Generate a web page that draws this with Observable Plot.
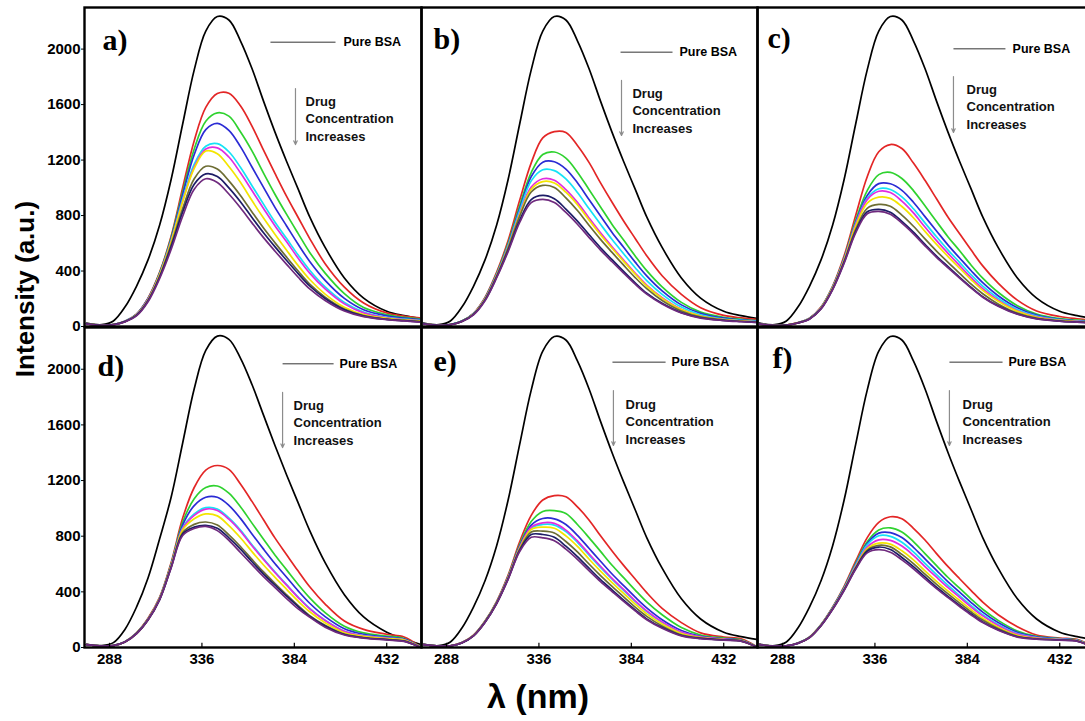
<!DOCTYPE html>
<html>
<head>
<meta charset="utf-8">
<script src="https://cdn.jsdelivr.net/npm/d3@7"></script>
<script src="https://cdn.jsdelivr.net/npm/@observablehq/plot@0.6"></script>
<style>
  html, body { margin: 0; padding: 0; background: #fff; }
  #chart { position: relative; width: 1085px; height: 721px; overflow: hidden; background: #fff;
           font-family: "Liberation Sans", Arial, sans-serif; }
  .panel { position: absolute; }
  .title { position: absolute; white-space: nowrap; line-height: 1; font-weight: bold; color: #000;
           font-family: "Liberation Sans", Arial, sans-serif; }
</style>
</head>
<body>
<div id="chart"></div>
<script>
// ---------- DATA ----------
const wavelengths = [276, 284, 290, 296, 302, 308, 314, 320, 326, 332, 338, 344, 350, 356, 362, 368, 374, 380, 386, 392, 400, 410, 420, 432, 441, 449];
const seriesNames = ["Pure BSA", "C1", "C2", "C3", "C4", "C5", "C6", "C7", "C8", "C9"];
const seriesColors = ["#000000", "#e32626", "#2fd22f", "#2b2bd4", "#16e2f6", "#e02ce0", "#f3e500", "#6d6d34", "#1d1d66", "#6f2a7e"];
const panelLabels = ["a)", "b)", "c)", "d)", "e)", "f)"];
const xTicks = [288, 336, 384, 432];
const yTicks = [0, 400, 800, 1200, 1600, 2000];
const legendText = "Pure BSA";
const arrowText = "Drug\nConcentration\nIncreases";
const xTitle = "λ (nm)";
const yTitle = "Intensity (a.u.)";

const pureBSA   = [24, 13, 40, 140, 290, 480, 730, 1060, 1460, 1850, 2130, 2235, 2210, 2060, 1860, 1625, 1400, 1190, 990, 790, 570, 350, 205, 110, 78, 58];
const pureBSA_d = [22, 14, 35, 130, 290, 500, 780, 1080, 1470, 1860, 2135, 2238, 2215, 2080, 1890, 1670, 1450, 1240, 1040, 840, 610, 380, 220, 110, 60, 25];

// order: red, green, blue, cyan, magenta, yellow, olive, navy, purple
const panelA = [
  [20, 9, 14, 38, 90, 205, 390, 650, 1000, 1340, 1580, 1680, 1682, 1592, 1445, 1271, 1102, 938, 786, 634, 453, 284, 170, 98, 75, 62],
  [20, 9, 14, 38, 88, 200, 385, 640, 970, 1280, 1480, 1540, 1517, 1404, 1266, 1106, 952, 808, 670, 534, 385, 237, 137, 86, 66, 55],
  [20, 9, 14, 38, 88, 200, 380, 630, 950, 1240, 1420, 1465, 1414, 1297, 1150, 1003, 857, 725, 593, 469, 333, 203, 121, 77, 60, 50],
  [20, 9, 14, 37, 86, 195, 375, 620, 920, 1170, 1300, 1318, 1260, 1148, 1015, 882, 752, 634, 515, 405, 285, 173, 105, 66, 53, 44],
  [20, 9, 14, 37, 85, 195, 372, 615, 905, 1150, 1280, 1288, 1222, 1108, 980, 851, 725, 611, 492, 385, 271, 163, 98, 62, 50, 43],
  [19, 9, 13, 36, 84, 192, 370, 610, 900, 1140, 1265, 1246, 1154, 1040, 908, 782, 664, 550, 439, 339, 234, 139, 86, 59, 48, 40],
  [19, 9, 13, 35, 82, 188, 360, 590, 850, 1065, 1155, 1135, 1050, 945, 826, 710, 603, 500, 400, 306, 212, 126, 78, 53, 44, 37],
  [19, 9, 13, 35, 80, 185, 355, 575, 825, 1025, 1100, 1081, 1000, 900, 786, 676, 574, 476, 381, 292, 202, 120, 75, 51, 42, 34],
  [18, 8, 12, 33, 76, 178, 345, 555, 795, 990, 1065, 1038, 955, 856, 747, 641, 543, 448, 355, 271, 188, 112, 71, 50, 40, 32]
];
const panelB = [
  [20, 9, 14, 40, 95, 210, 390, 620, 910, 1180, 1360, 1405, 1399, 1305, 1183, 1036, 896, 761, 635, 510, 366, 231, 135, 80, 62, 52],
  [20, 9, 14, 40, 93, 205, 380, 600, 870, 1110, 1240, 1258, 1214, 1113, 988, 862, 736, 623, 509, 403, 286, 174, 104, 66, 52, 43],
  [20, 9, 14, 39, 92, 203, 375, 590, 850, 1080, 1185, 1188, 1135, 1036, 915, 796, 678, 571, 464, 365, 257, 156, 95, 60, 48, 40],
  [20, 9, 14, 39, 91, 200, 372, 585, 835, 1050, 1130, 1124, 1064, 966, 850, 737, 627, 525, 424, 331, 232, 140, 85, 54, 44, 37],
  [19, 9, 13, 38, 90, 198, 368, 575, 815, 1005, 1065, 1055, 987, 895, 783, 675, 575, 479, 385, 298, 207, 124, 76, 50, 40, 34],
  [19, 9, 13, 38, 89, 196, 365, 570, 805, 990, 1045, 1035, 968, 878, 768, 662, 564, 470, 378, 292, 203, 122, 75, 49, 40, 33],
  [19, 9, 13, 37, 88, 194, 362, 565, 795, 970, 1017, 1002, 927, 836, 730, 628, 534, 442, 353, 273, 188, 112, 69, 47, 38, 32],
  [19, 9, 13, 37, 86, 190, 355, 550, 765, 915, 945, 921, 847, 760, 663, 568, 482, 397, 315, 240, 167, 100, 63, 44, 36, 30],
  [18, 8, 12, 36, 84, 186, 350, 540, 750, 893, 917, 894, 822, 737, 643, 551, 467, 385, 305, 233, 162, 97, 61, 43, 35, 29]
];
const panelC = [
  [18, 8, 10, 28, 60, 140, 290, 510, 800, 1080, 1260, 1312, 1283, 1178, 1054, 921, 788, 669, 551, 437, 313, 190, 112, 72, 56, 46],
  [18, 8, 10, 27, 58, 137, 285, 495, 765, 980, 1095, 1111, 1067, 980, 870, 757, 646, 546, 442, 349, 247, 150, 90, 57, 46, 38],
  [18, 8, 10, 27, 57, 135, 282, 490, 750, 945, 1030, 1029, 982, 896, 792, 689, 587, 494, 402, 316, 222, 135, 82, 51, 41, 35],
  [18, 8, 10, 27, 57, 134, 280, 485, 740, 925, 993, 988, 935, 849, 747, 647, 551, 462, 372, 291, 204, 123, 75, 48, 39, 33],
  [17, 8, 10, 26, 56, 133, 278, 482, 735, 915, 975, 966, 904, 819, 717, 619, 527, 439, 352, 273, 190, 114, 70, 46, 37, 31],
  [17, 8, 10, 26, 56, 132, 276, 478, 722, 890, 933, 924, 865, 784, 686, 592, 504, 420, 337, 261, 182, 109, 67, 44, 35, 30],
  [17, 8, 10, 26, 55, 130, 272, 470, 700, 852, 880, 867, 803, 723, 632, 544, 462, 383, 305, 236, 163, 97, 60, 40, 33, 28],
  [17, 8, 10, 25, 54, 128, 268, 462, 685, 827, 845, 824, 758, 680, 593, 508, 431, 355, 282, 215, 149, 90, 56, 39, 32, 27],
  [17, 7, 9, 25, 53, 126, 265, 456, 675, 813, 830, 809, 745, 668, 582, 499, 423, 349, 277, 211, 146, 88, 55, 38, 31, 26]
];
const panelD = [
  [20, 10, 13, 42, 105, 210, 360, 610, 930, 1150, 1275, 1308, 1280, 1175, 1050, 918, 786, 667, 549, 436, 312, 190, 130, 95, 75, 10],
  [20, 10, 13, 41, 103, 205, 355, 600, 900, 1070, 1150, 1161, 1109, 1012, 894, 778, 663, 558, 453, 357, 251, 153, 105, 82, 65, 8],
  [20, 10, 13, 41, 102, 204, 352, 595, 880, 1020, 1080, 1080, 1022, 928, 816, 707, 602, 505, 407, 318, 222, 135, 95, 75, 60, 7],
  [20, 10, 13, 40, 101, 202, 350, 590, 860, 960, 1005, 995, 931, 844, 739, 638, 543, 452, 363, 281, 196, 117, 85, 68, 56, 6],
  [20, 10, 13, 40, 101, 202, 349, 588, 855, 950, 995, 985, 922, 836, 731, 632, 537, 448, 359, 278, 194, 116, 84, 67, 55, 6],
  [20, 10, 13, 40, 100, 200, 347, 585, 845, 925, 960, 946, 876, 789, 689, 593, 504, 418, 333, 257, 178, 106, 80, 64, 53, 5],
  [20, 10, 13, 40, 100, 200, 345, 580, 825, 885, 902, 880, 809, 726, 633, 543, 460, 379, 301, 229, 160, 96, 72, 58, 48, 5],
  [20, 10, 13, 39, 99, 198, 343, 575, 815, 865, 878, 857, 788, 707, 616, 528, 448, 369, 293, 223, 155, 93, 70, 56, 46, 4],
  [20, 10, 13, 39, 98, 197, 342, 572, 805, 855, 870, 840, 770, 683, 596, 509, 431, 352, 278, 218, 146, 90, 68, 54, 44, 4]
];
const panelE = [
  [20, 10, 12, 35, 88, 190, 330, 520, 760, 950, 1060, 1092, 1083, 1011, 917, 803, 694, 590, 492, 394, 281, 179, 105, 75, 62, 8],
  [20, 10, 12, 35, 87, 188, 326, 512, 740, 905, 978, 984, 963, 884, 790, 691, 591, 502, 413, 328, 235, 143, 90, 68, 56, 7],
  [20, 10, 12, 35, 86, 186, 323, 506, 728, 880, 927, 925, 884, 806, 713, 620, 528, 445, 362, 285, 200, 122, 80, 62, 52, 6],
  [20, 10, 12, 34, 85, 184, 320, 501, 716, 858, 884, 880, 833, 756, 665, 576, 491, 411, 331, 259, 181, 110, 75, 59, 49, 6],
  [20, 10, 12, 34, 86, 185, 321, 503, 720, 865, 896, 892, 844, 766, 674, 584, 497, 417, 336, 263, 184, 111, 76, 60, 50, 6],
  [20, 10, 12, 34, 85, 184, 319, 499, 712, 848, 865, 857, 802, 727, 636, 549, 467, 389, 312, 242, 169, 101, 72, 57, 48, 5],
  [20, 10, 12, 34, 84, 183, 318, 496, 705, 830, 836, 823, 762, 687, 600, 517, 439, 364, 290, 224, 155, 92, 68, 55, 47, 5],
  [20, 10, 12, 33, 84, 182, 316, 493, 698, 812, 812, 792, 728, 653, 570, 488, 414, 341, 271, 206, 143, 86, 65, 54, 46, 5],
  [20, 10, 12, 33, 83, 180, 314, 490, 690, 792, 788, 768, 707, 634, 553, 474, 402, 331, 263, 200, 139, 84, 63, 53, 45, 4]
];
const panelF = [
  [20, 10, 12, 32, 75, 165, 290, 440, 620, 790, 900, 940, 926, 857, 773, 675, 581, 494, 409, 326, 235, 149, 90, 68, 58, 8],
  [20, 10, 12, 32, 74, 163, 286, 432, 605, 760, 845, 860, 830, 761, 675, 589, 503, 426, 348, 275, 195, 119, 80, 64, 54, 7],
  [20, 10, 12, 32, 74, 162, 284, 428, 598, 748, 822, 826, 790, 720, 637, 554, 472, 398, 323, 254, 179, 109, 76, 62, 52, 6],
  [20, 10, 12, 31, 73, 161, 282, 425, 592, 738, 803, 799, 756, 687, 604, 524, 446, 373, 301, 235, 165, 100, 72, 60, 51, 6],
  [20, 10, 12, 31, 73, 160, 280, 422, 585, 722, 774, 770, 729, 662, 582, 505, 430, 360, 290, 227, 159, 96, 70, 58, 50, 5],
  [20, 10, 12, 31, 72, 159, 278, 418, 578, 710, 750, 743, 695, 630, 551, 476, 405, 338, 271, 210, 146, 88, 66, 56, 48, 5],
  [20, 10, 12, 31, 72, 158, 277, 416, 573, 700, 734, 723, 669, 603, 527, 454, 385, 319, 255, 197, 136, 81, 63, 55, 47, 5],
  [20, 10, 12, 30, 71, 157, 275, 413, 568, 692, 722, 704, 647, 581, 507, 434, 368, 303, 241, 183, 127, 77, 61, 54, 46, 5],
  [20, 10, 12, 30, 70, 156, 273, 410, 562, 680, 703, 685, 630, 566, 493, 423, 358, 295, 234, 179, 124, 75, 60, 53, 45, 4]
];

// ---------- LAYOUT (positions / styles, kept apart from the data) ----------
const colLeft = [84, 421, 757], colWidth = [337, 336, 329];
const rowTop = [7, 327], rowHeight = [319, 320];
const pxPerNm = 1.925, xStart = 275, yMax = 2300;
// annotation anchors in data units per panel
const notes = [
  {lx1: 371.6, lx2: 405.4, lxt: 409.5, ly: 2050, ax: 384.6, ay1: 1716, ay2: 1312, tx: 389.8, ty: 1507, labDx: 18, labDy: 42},
  {lx1: 378.4, lx2: 405.4, lxt: 409.0, ly: 1978, ax: 378.9, ay1: 1774, ay2: 1377, tx: 384.6, ty: 1565, labDx: 12, labDy: 41},
  {lx1: 376.8, lx2: 403.8, lxt: 407.5, ly: 2002, ax: 376.8, ay1: 1802, ay2: 1399, tx: 383.6, ty: 1593, labDx: 10, labDy: 40},
  {lx1: 377.9, lx2: 404.4, lxt: 407.5, ly: 2039, ax: 377.9, ay1: 1833, ay2: 1437, tx: 383.6, ty: 1624, labDx: 13, labDy: 48},
  {lx1: 374.2, lx2: 401.8, lxt: 404.9, ly: 2051, ax: 374.7, ay1: 1847, ay2: 1452, tx: 381.0, ty: 1632, labDx: 12, labDy: 43},
  {lx1: 374.7, lx2: 402.3, lxt: 405.4, ly: 2051, ax: 374.7, ay1: 1847, ay2: 1452, tx: 381.5, ty: 1632, labDx: 15, labDy: 40}
];

const panels = [panelA, panelB, panelC, panelD, panelE, panelF];
const blacks = [pureBSA, pureBSA, pureBSA, pureBSA_d, pureBSA, pureBSA];
const chart = document.getElementById("chart");

panels.forEach((curves, i) => {
  const col = i % 3, row = Math.floor(i / 3);
  const w = colWidth[col], h = rowHeight[row];
  const mL = col === 0 ? 84 : 0, mB = row === 1 ? 34 : 0;
  const rows = [];
  [blacks[i], ...curves].forEach((vals, s) => vals.forEach((v, k) => rows.push({x: wavelengths[k], y: v, s: seriesNames[s]})));
  const n = notes[i];
  const marks = [
    Plot.line(rows, {x: "x", y: "y", z: "s", stroke: "s", strokeWidth: 1.7, curve: "catmull-rom", clip: true}),
    Plot.frame({stroke: "#000", strokeWidth: 2.4}),
    Plot.text([panelLabels[i]], {text: d => d, frameAnchor: "top-left", dx: n.labDx, dy: n.labDy,
      textAnchor: "start", lineAnchor: "bottom", fontFamily: "'Liberation Serif', 'Times New Roman', serif",
      fontWeight: "bold", fontSize: 30, fill: "#000"}),
    Plot.link([n], {x1: "lx1", x2: "lx2", y1: "ly", y2: "ly", stroke: "#333", strokeWidth: 1}),
    Plot.text([n], {x: "lxt", y: "ly", text: () => legendText, textAnchor: "start", fontSize: 12.5, fontWeight: "bold", fill: "#000"}),
    Plot.arrow([n], {x1: "ax", x2: "ax", y1: "ay1", y2: "ay2", stroke: "#8c8c8c", strokeWidth: 1.2, headLength: 5, headAngle: 50}),
    Plot.text([n], {x: "tx", y: "ty", text: () => arrowText, textAnchor: "start", lineAnchor: "middle",
      lineHeight: 1.35, fontSize: 13, fontWeight: "bold", fill: "#111"})
  ];
  if (row === 1) marks.push(Plot.ruleX(xTicks, {y1: 0, y2: 30, stroke: "#000", strokeWidth: 1.2}));

  const xOpts = {domain: [xStart, xStart + w / pxPerNm]};
  if (row === 1) Object.assign(xOpts, {ticks: xTicks, tickSize: 0, tickPadding: 6, tickFormat: d => String(d), label: null});
  else xOpts.axis = null;
  const yOpts = {domain: [0, yMax]};
  if (col === 0) Object.assign(yOpts, {ticks: yTicks, tickSize: 3, tickPadding: 1, tickFormat: d => String(d), label: null});
  else yOpts.axis = null;

  const svg = Plot.plot({
    width: mL + w, height: h + mB,
    marginLeft: mL, marginRight: 0, marginTop: 0, marginBottom: mB,
    style: {background: "none", overflow: "visible", fontFamily: "'Liberation Sans', Arial, sans-serif",
            fontSize: "15px", fontWeight: "bold", color: "#000"},
    x: xOpts, y: yOpts,
    color: {domain: seriesNames, range: seriesColors},
    marks
  });
  const div = document.createElement("div");
  div.className = "panel";
  div.style.left = (colLeft[col] - mL) + "px";
  div.style.top = rowTop[row] + "px";
  div.style.width = (mL + w) + "px";
  div.appendChild(svg);
  chart.appendChild(div);
});

const yt = document.createElement("div");
yt.className = "title";
yt.textContent = yTitle;
Object.assign(yt.style, {left: "25px", top: "289px", fontSize: "26px", transform: "translate(-50%, -50%) rotate(-90deg)"});
chart.appendChild(yt);

const xt = document.createElement("div");
xt.className = "title";
xt.textContent = xTitle;
Object.assign(xt.style, {left: "538px", top: "696px", fontSize: "34px", transform: "translate(-50%, -50%)"});
chart.appendChild(xt);
</script>
</body>
</html>
